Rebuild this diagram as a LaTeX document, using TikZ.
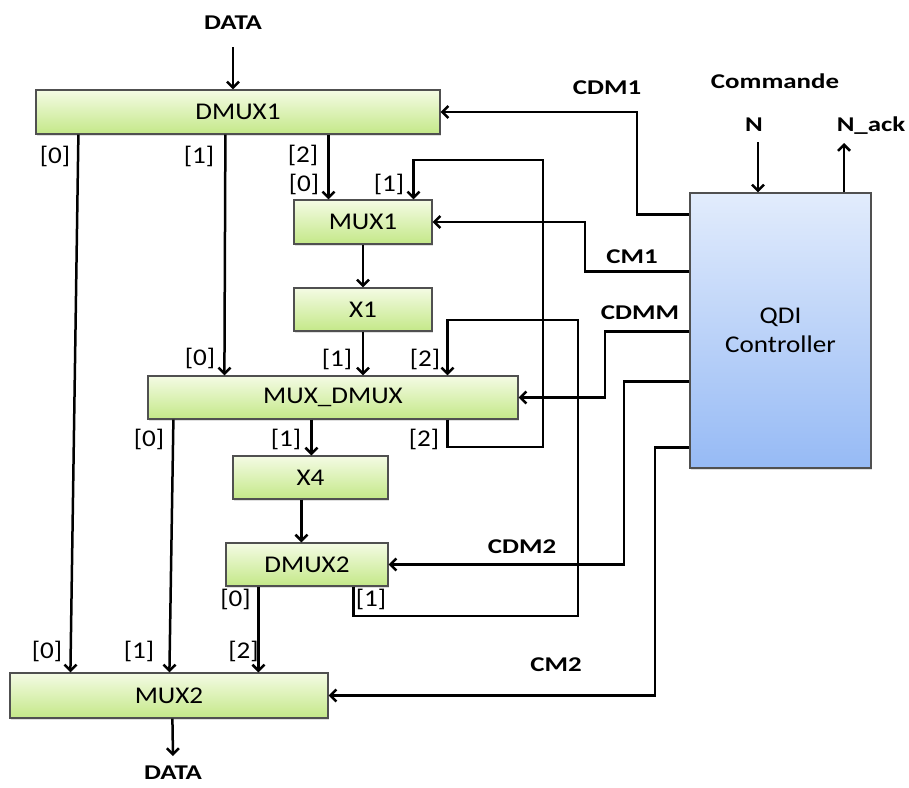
\documentclass[tikz,border=0pt]{standalone}
\usepackage{fontspec}
\setmainfont{Carlito}[FakeStretch=1.13]
\newfontfamily\lblfont{Carlito}[FakeStretch=1.28]
\usetikzlibrary{arrows.meta,shadows}
\definecolor{gtop}{RGB}{244,251,228}
\definecolor{gbot}{RGB}{196,232,136}
\definecolor{btop}{RGB}{226,236,252}
\definecolor{bbot}{RGB}{150,186,245}
\definecolor{edge}{RGB}{80,80,80}
\tikzset{
  gbox/.style={draw=edge, line width=1.2pt, top color=gtop, bottom color=gbot,
    inner sep=0pt, font=\fontsize{24}{28}\selectfont,
    drop shadow={opacity=0.25, shadow xshift=1.2pt, shadow yshift=-1.5pt}},
  bbox/.style={draw=edge, line width=1.2pt, top color=btop, bottom color=bbot,
    inner sep=0pt, font=\fontsize{24}{29}\selectfont, align=center,
    drop shadow={opacity=0.25, shadow xshift=1.2pt, shadow yshift=-1.5pt}},
  arr/.style={line width=2.5pt, -{Straight Barb[length=6pt,width=12pt]}},
  sig/.style={font=\lblfont\fontsize{21}{25}\bfseries\selectfont, inner sep=0pt},
  idx/.style={font=\fontsize{24}{28}\selectfont, inner sep=0pt},
}
\begin{document}
\begin{tikzpicture}[x=1pt,y=-1pt]
\useasboundingbox (0,0) rectangle (909,787);
% boxes
\node[gbox, minimum width=404pt, minimum height=44pt] (dmux1) at (238,112) {DMUX1};
\node[gbox, minimum width=138pt, minimum height=44pt] (mux1) at (363,222) {MUX1};
\node[gbox, minimum width=138pt, minimum height=43pt] (x1) at (363,309.5) {X1};
\node[gbox, minimum width=370pt, minimum height=43pt] (muxd) at (333,397.5) {MUX\_DMUX};
\node[gbox, minimum width=155pt, minimum height=43pt] (x4) at (310.5,477.5) {X4};
\node[gbox, minimum width=162pt, minimum height=43pt] (dmux2) at (307,564.5) {DMUX2};
\node[gbox, minimum width=318pt, minimum height=45pt] (mux2) at (169,695.5) {MUX2};
\node[bbox, minimum width=181pt, minimum height=275pt] (qdi) at (780.5,330.5) {QDI\\Controller};

% signal labels
\node[sig] (din) at (233,23) {DATA};
\node[sig] (dout) at (173,773) {DATA};
\node[sig] (lcdm1) at (607,88) {CDM1};
\node[sig] (lcmd) at (775,81) {Commande};
\node[sig] (ln) at (754,125) {N};
\node[sig] (lnack) at (871,126) {N\_ack};
\node[sig] (lcm1) at (632,257) {CM1};
\node[sig] (lcdmm) at (640,313) {CDMM};
\node[sig] (lcdm2) at (522,547) {CDM2};
\node[sig] (lcm2) at (556,665) {CM2};

% index labels
\node[idx] (i1) at (55,156) {[0]};
\node[idx] (i2) at (199,156) {[1]};
\node[idx] (i3) at (303,155) {[2]};
\node[idx] (i4) at (304,184) {[0]};
\node[idx] (i5) at (389,184) {[1]};
\node[idx] (i6) at (200,358) {[0]};
\node[idx] (i7) at (337,359) {[1]};
\node[idx] (i8) at (425,359) {[2]};
\node[idx] (i9) at (149,439) {[0]};
\node[idx] (i10) at (286,439) {[1]};
\node[idx] (i11) at (424,439) {[2]};
\node[idx] (i12) at (235.5,599) {[0]};
\node[idx] (i13) at (371,599) {[1]};
\node[idx] (i14) at (47,651) {[0]};
\node[idx] (i15) at (139,651) {[1]};
\node[idx] (i16) at (243.5,651) {[2]};

% coordinates for bends
\coordinate (fb1) at (543,447);
\coordinate (fb1t) at (543,160);
\coordinate (fb2) at (578,616);
\coordinate (fb2t) at (578,320);
\coordinate (k1) at (637,112);
\coordinate (k2) at (585,222);
\coordinate (k3) at (605,397.5);
\coordinate (k4) at (624,564.5);
\coordinate (k5) at (655,695.5);
\coordinate (dinend) at (233,47);
\coordinate (doutend) at (173,756);
\coordinate (nstart) at (758,142);
\coordinate (nackend) at (844,143);

% data path
\draw[arr] (dinend) -- (dinend |- dmux1.north);
\draw[arr] ([xshift=43pt]dmux1.south west) -- ([xshift=61pt]mux2.north west);
\draw[arr] ([xshift=190pt]dmux1.south west) -- ([xshift=77pt]muxd.north west);
\draw[arr] ([xshift=293pt]dmux1.south west) -- ([xshift=35pt]mux1.north west);
\draw[arr] (mux1.south) -- (x1.north);
\draw[arr] (x1.south) -- (x1.south |- muxd.north);
\draw[arr] ([xshift=300pt]muxd.south west) |- (fb1) -- (fb1t) -| ([xshift=120pt]mux1.north west);
\draw[arr] ([xshift=128pt]dmux2.south west) |- (fb2) -- (fb2t) -| ([xshift=300pt]muxd.north west);
\draw[arr] ([xshift=26pt]muxd.south west) -- ([xshift=160pt]mux2.north west);
\draw[arr] ([xshift=164pt]muxd.south west) -- ([xshift=79pt]x4.north west);
\draw[arr] ([xshift=69pt]x4.south west) -- ([xshift=76pt]dmux2.north west);
\draw[arr] ([xshift=33pt]dmux2.south west) -- ([xshift=249pt]mux2.north west);
\draw[arr] ([xshift=163pt]mux2.south west) -- (doutend);

% control signals
\draw[arr] ([yshift=-22pt]qdi.north west) -| (k1) -- (dmux1.east);
\draw[arr] ([yshift=-79pt]qdi.north west) -| (k2) -- (mux1.east);
\draw[arr] ([yshift=-139pt]qdi.north west) -| (k3) -- (muxd.east);
\draw[arr] ([yshift=-189pt]qdi.north west) -| (k4) -- (dmux2.east);
\draw[arr] ([yshift=-255pt]qdi.north west) -| (k5) -- (mux2.east);
\draw[arr] (nstart) -- (nstart |- qdi.north);
\draw[arr] (nackend |- qdi.north) -- (nackend);
\end{tikzpicture}
\end{document}
